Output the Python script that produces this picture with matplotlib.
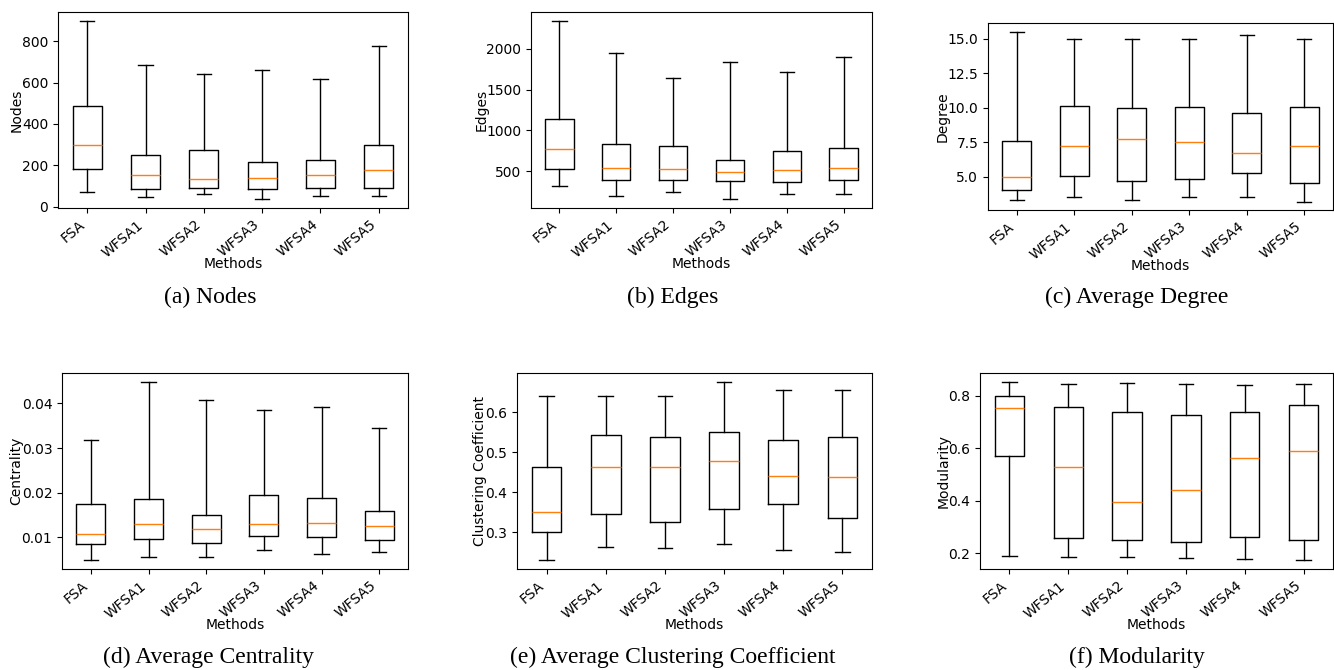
import matplotlib
matplotlib.use("Agg")
import matplotlib.pyplot as plt

methods = ["FSA", "WFSA1", "WFSA2", "WFSA3", "WFSA4", "WFSA5"]

# each list: [whislo, q1, median, q3, whishi] per method
nodes = [[71, 183, 299, 487, 898], [48, 88, 154, 251, 686], [61, 90, 132, 273, 643],
         [37, 87, 138, 217, 660], [51, 90, 151, 225, 618], [51, 92, 177, 297, 778]]
edges = [[321, 524, 769, 1136, 2343], [202, 390, 545, 838, 1955], [243, 390, 533, 806, 1641],
         [158, 374, 488, 643, 1833], [219, 370, 516, 753, 1715], [219, 394, 537, 781, 1902]]
degree = [[3.33, 4.06, 5.02, 7.61, 15.53], [3.53, 5.05, 7.20, 10.14, 15.02], [3.31, 4.71, 7.71, 9.95, 15.02],
          [3.55, 4.83, 7.49, 10.07, 15.02], [3.50, 5.31, 6.76, 9.59, 15.27], [3.21, 4.57, 7.22, 10.05, 15.02]]
centrality = [[0.0049, 0.0086, 0.0108, 0.0174, 0.0317], [0.0055, 0.0096, 0.0130, 0.0186, 0.0448],
              [0.0055, 0.0087, 0.0119, 0.0151, 0.0407], [0.0071, 0.0102, 0.0129, 0.0195, 0.0385],
              [0.0063, 0.0101, 0.0133, 0.0189, 0.0392], [0.0068, 0.0093, 0.0125, 0.0159, 0.0344]]
clustering = [[0.231, 0.301, 0.350, 0.462, 0.640], [0.264, 0.347, 0.462, 0.543, 0.640],
              [0.262, 0.326, 0.464, 0.538, 0.640], [0.272, 0.358, 0.479, 0.551, 0.675],
              [0.255, 0.370, 0.440, 0.531, 0.656], [0.250, 0.336, 0.439, 0.538, 0.656]]
modularity = [[0.189, 0.570, 0.753, 0.799, 0.853], [0.185, 0.258, 0.529, 0.758, 0.844],
              [0.183, 0.248, 0.396, 0.739, 0.850], [0.181, 0.241, 0.442, 0.728, 0.844],
              [0.178, 0.262, 0.562, 0.740, 0.841], [0.173, 0.248, 0.590, 0.764, 0.844]]

ylabels = ["Nodes", "Edges", "Degree", "Centrality", "Clustering Coefficient", "Modularity"]
captions = ["(a) Nodes", "(b) Edges", "(c) Average Degree",
            "(d) Average Centrality", "(e) Average Clustering Coefficient", "(f) Modularity"]
datasets = [nodes, edges, degree, centrality, clustering, modularity]

W, H = 1334, 670
fig = plt.figure(figsize=(W / 100, H / 100), dpi=100)

# axes boxes in pixels: left, top, right, bottom
boxes = [(58, 12, 408, 208), (531, 12, 872, 208), (988, 23, 1333, 210),
         (62, 373, 408, 569), (517, 373, 872, 569), (980, 373, 1333, 569)]
cap_pos = [(210, 297), (673, 297), (1137, 297), (209, 657), (673, 657), (1137, 657)]

FS = 10

for i in range(6):
    l, t, r, b = boxes[i]
    ax = fig.add_axes([l / W, 1 - b / H, (r - l) / W, (b - t) / H])
    stats = []
    for m, v in zip(methods, datasets[i]):
        stats.append(dict(label=m, whislo=v[0], q1=v[1], med=v[2], q3=v[3], whishi=v[4], fliers=[]))
    ax.bxp(stats, showfliers=False,
           medianprops=dict(color="#ff7f0e"))
    ax.set_xticks(range(1, 7))
    ax.set_xticklabels(methods, rotation=40, ha="right", fontsize=FS)
    ax.tick_params(axis="y", labelsize=FS)
    ax.set_xlabel("Methods", fontsize=FS, labelpad=-2)
    ax.set_ylabel(ylabels[i], fontsize=FS, labelpad=-1.5)
    fig.text(cap_pos[i][0] / W, 1 - cap_pos[i][1] / H, captions[i],
             ha="center", va="center", fontsize=17, family="Liberation Serif")

fig.savefig("out.png", dpi=100)
